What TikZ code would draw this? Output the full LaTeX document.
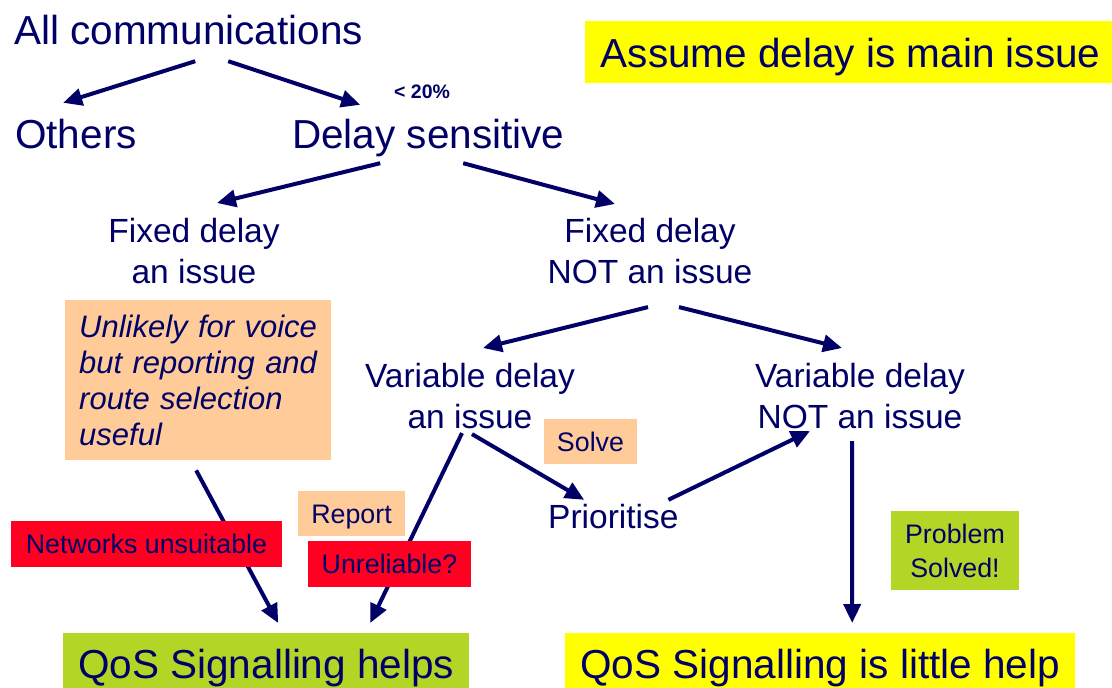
\documentclass[tikz,border=0pt]{standalone}
\usepackage{fontspec}
\setmainfont{Liberation Sans}
\usetikzlibrary{arrows.meta}
\definecolor{navy}{RGB}{0,0,102}
\definecolor{peach}{RGB}{255,204,153}
\definecolor{alarm}{RGB}{255,0,34}
\definecolor{lime}{RGB}{179,214,38}
\definecolor{lemon}{RGB}{255,255,0}

\begin{document}
\begin{tikzpicture}[x=1pt,y=-1pt,
    every node/.style={inner sep=0pt,text=navy},
    big/.style={font=\fontsize{40.5}{48}\selectfont,text height=29pt,text depth=8pt},
    mid/.style={font=\fontsize{33.5}{41}\selectfont,align=center},
    small/.style={font=\fontsize{26.8}{34}\selectfont},
    tag/.style={small,minimum height=45pt,text height=19pt,text depth=0pt},
    arr/.style={-{Triangle[length=19pt,width=17pt]},line width=4pt,draw=navy}]

      \useasboundingbox (0,0) rectangle (1112,688);

      \node[big,anchor=base west] (allcomm) at (14,45){All communications};
      \node[big,anchor=base west] (others) at (15,148){Others};
      \node[big,anchor=base west] (delaysens) at (292,148){Delay sensitive};
      \node[anchor=base west,font=\bfseries\fontsize{19.5}{23}\selectfont] (share) at (394,98){< 20\%};
      \node[big,anchor=north west,fill=lemon,minimum width=531pt,text height=46pt,text depth=16pt] (assume) at (585,21){Assume delay is main issue};

      \node[mid,anchor=north] (fixedyes) at (194,217.6){Fixed delay\\an issue};
      \node[mid,anchor=north] (fixedno) at (650,217.6){Fixed delay\\NOT an issue};
      \node[mid,anchor=north] (varyes) at (470,362.6){Variable delay\\an issue};
      \node[mid,anchor=north] (varno) at (860,362.6){Variable delay\\NOT an issue};
      \node[mid,anchor=base west,text height=24pt,text depth=7pt] (prio) at (548,528){Prioritise};

      \node[anchor=north west,fill=peach,minimum height=160pt,text width=238pt,inner xsep=14pt,align=left,font=\itshape\fontsize{31}{36}\selectfont] (unlikely) at (65,300){Unlikely for voice\\but reporting and\\route selection\\useful};

      \node[big,anchor=north west,fill=lime,minimum width=406pt,text height=45pt,text depth=25pt] (helps) at (63,633){QoS Signalling helps};
      \node[big,anchor=north west,fill=lemon,minimum width=510pt,text height=45pt,text depth=25pt] (little) at (565,633){QoS Signalling is little help};

      \draw[arr] ([shift={(6.6,8)}]allcomm.south) -- ([shift={(-12.8,-16)}]others.north);
      \draw[arr] ([shift={(39.6,8)}]allcomm.south) -- ([shift={(-68.2,-14)}]delaysens.north);
      \draw[arr] ([shift={(-48.2,7)}]delaysens.south) -- ([shift={(23,-14.6)}]fixedyes.north);
      \draw[arr] ([shift={(34.8,7)}]delaysens.south) -- ([shift={(-35,-13.6)}]fixedno.north);
      \draw[arr] ([shift={(-2,23.5)}]fixedno.south) -- ([shift={(13,-14.6)}]varyes.north);
      \draw[arr] ([shift={(29,23.5)}]fixedno.south) -- ([shift={(-18,-14.6)}]varno.north);
      \draw[arr] ([shift={(-8,4.5)}]varyes.south) -- ([shift={(104,-10)}]helps.north);
      \draw[arr] ([shift={(2,5.5)}]varyes.south) -- ([shift={(-29.2,-4)}]prio.north);
      \draw[arr] ([shift={(-10.3,-4)}]prio.north east) -- ([shift={(-50,2.5)}]varno.south);
      \draw[arr] ([shift={(-8,12.5)}]varno.south) -- ([shift={(32,-10)}]little.north);
      \draw[arr] ([shift={(-2,10)}]unlikely.south) -- ([shift={(12,-10)}]helps.north);

      \node[tag,fill=peach,minimum width=93pt] (solve) at (590.5,441.5){Solve};
      \node[tag,fill=peach,minimum width=107pt] (report) at (351.5,513.5){Report};
      \node[tag,fill=alarm,minimum width=271pt,minimum height=46pt] (unsuit) at (146.5,544){Networks unsuitable};
      \node[tag,fill=alarm,minimum width=163pt,minimum height=46pt] (unrel) at (389.5,564){Unreliable?};
      \node[small,fill=lime,minimum width=128pt,minimum height=79pt,align=center] (solved) at (955,550.5){Problem\\Solved!};

    \end{tikzpicture}
\end{document}
